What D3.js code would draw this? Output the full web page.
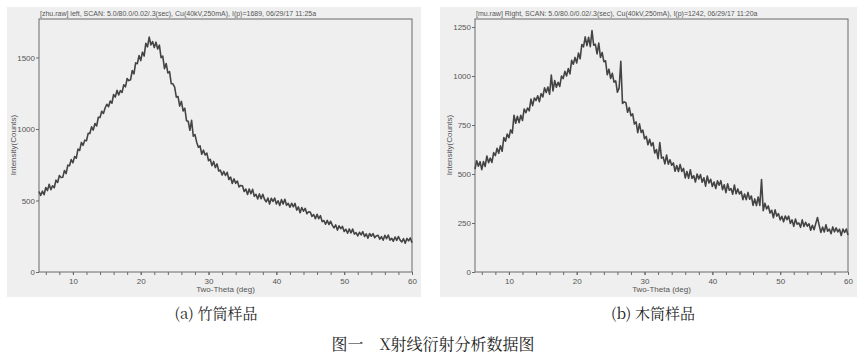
<!DOCTYPE html>
<html>
<head>
<meta charset="utf-8">
<script src="https://cdn.jsdelivr.net/npm/d3@7"></script>
<style>
  html, body { margin: 0; padding: 0; background: #ffffff; }
  svg { display: block; }
</style>
</head>
<body>
<svg id="chart" width="865" height="356"></svg>
<script>
// ---- data ----
const scanStart = 5, scanStep = 0.25;
const countsA = [563,536,565,540,591,569,613,576,603,589,642,626,675,661,662,710,688,747,743,786,
763,807,796,859,850,906,886,922,918,969,968,1015,992,1038,1021,1082,1080,1124,1109,1147,
1173,1156,1195,1180,1241,1223,1270,1238,1268,1256,1309,1295,1353,1338,1344,1409,1385,1462,1457,1513,
1478,1537,1510,1599,1574,1642,1588,1611,1570,1607,1559,1586,1499,1510,1422,1458,1392,1401,1317,1316,
1292,1223,1227,1160,1193,1126,1145,1058,1054,991,1060,950,961,908,872,882,823,852,818,831,
778,788,744,773,730,756,706,712,678,703,675,697,647,664,619,651,620,636,595,605,
603,563,580,542,581,547,578,529,543,511,546,512,543,509,490,517,475,516,493,517,
476,498,465,506,475,509,466,480,453,481,456,480,433,455,414,451,425,445,407,421,
420,389,402,372,403,373,394,352,360,334,361,332,355,326,309,329,293,323,303,319,
283,299,271,301,274,300,265,275,252,278,260,282,248,267,237,269,250,268,240,253,
256,230,247,222,257,233,259,223,236,215,245,221,248,223,210,233,201,235,218,238,205];
const countsB = [525,568,540,563,522,564,539,592,558,581,559,609,594,631,606,644,616,686,667,704,
685,725,709,800,759,795,762,800,773,832,813,837,822,882,849,888,875,899,869,910,
893,940,916,944,907,1005,924,977,943,968,947,1000,987,1024,1000,1038,1011,1080,1060,1095,
1067,1117,1088,1161,1149,1200,1155,1198,1150,1232,1157,1162,1113,1168,1095,1120,1073,1078,1007,1035,
988,1014,969,975,917,938,1075,860,868,864,815,839,797,807,755,766,711,756,712,724,
680,692,649,677,644,660,607,625,578,660,581,586,552,597,550,573,545,557,514,543,
513,549,513,529,480,513,478,522,478,491,459,500,475,497,458,481,438,490,454,473,
436,459,426,465,443,466,420,445,405,450,417,426,397,444,399,424,398,411,369,398,
369,406,371,388,340,373,339,383,340,472,313,351,322,337,301,315,277,317,285,298,
266,284,256,286,267,285,248,266,233,270,244,250,228,266,232,254,234,246,213,238,
216,248,278,238,202,229,204,241,208,219,195,230,205,225,205,218,186,219,202,219,189];
const xTickLabels = [10, 20, 30, 40, 50, 60];
const xMinorTicks = d3.range(6, 60.001, 2);
const yTicksA = [0, 500, 1000, 1500];
const yTicksB = [0, 250, 500, 750, 1000, 1250];
const titleA = "[zhu.raw] left, SCAN: 5.0/80.0/0.02/.3(sec), Cu(40kV,250mA), I(p)=1689, 06/29/17 11:25a";
const titleB = "[mu.raw] Right, SCAN: 5.0/80.0/0.02/.3(sec), Cu(40kV,250mA), I(p)=1242, 06/29/17 11:20a";
const captionA = "(a) 竹筒样品";
const captionB = "(b) 木筒样品";
const figCaption = "图一\u3000X射线衍射分析数据图";

// ---- drawing ----
const svg = d3.select("#chart");
const sansFont = "'Liberation Sans', Arial, sans-serif";
const serifFont = "'Noto Serif CJK SC', 'Liberation Serif', 'Noto Sans CJK SC', serif";

function panel(opts) {
  const { bg, plot, counts, yMax, yTicks, title, caption } = opts;
  const g = svg.append("g");
  g.append("rect").attr("x", bg.x).attr("y", bg.y).attr("width", bg.w).attr("height", bg.h)
    .attr("fill", "#efefef");

  const x = d3.scaleLinear().domain([5, 60]).range([plot.x, plot.x + plot.w]);
  const y = d3.scaleLinear().domain([0, yMax]).range([plot.y + plot.h, plot.y]);

  // frame
  g.append("rect").attr("x", plot.x).attr("y", plot.y).attr("width", plot.w).attr("height", plot.h)
    .attr("fill", "none").attr("stroke", "#6a6a6a").attr("stroke-width", 1);

  // x axis
  const xAxis = g.append("g").attr("transform", `translate(0,${plot.y + plot.h})`)
    .call(d3.axisBottom(x).tickValues(xMinorTicks).tickSize(3).tickFormat(""));
  xAxis.select(".domain").remove();
  xAxis.selectAll("line").attr("stroke", "#6a6a6a");
  const xAxisL = g.append("g").attr("transform", `translate(0,${plot.y + plot.h})`)
    .call(d3.axisBottom(x).tickValues(xTickLabels).tickSize(3).tickPadding(3).tickFormat(d3.format("d")));
  xAxisL.select(".domain").remove();
  xAxisL.selectAll("line").attr("stroke", "#6a6a6a");
  xAxisL.selectAll("text").attr("fill", "#555").style("font-family", sansFont).style("font-size", "8px");

  // y axis
  const yAxis = g.append("g").attr("transform", `translate(${plot.x},0)`)
    .call(d3.axisLeft(y).tickValues(yTicks).tickSize(3).tickPadding(1).tickFormat(d3.format("d")));
  yAxis.select(".domain").remove();
  yAxis.selectAll("line").attr("stroke", "#6a6a6a");
  yAxis.selectAll("text").attr("fill", "#555").style("font-family", sansFont).style("font-size", "8px");

  // line
  const line = d3.line().x((d, i) => x(scanStart + i * scanStep)).y(d => y(d));
  g.append("path").datum(counts).attr("d", line).attr("fill", "none")
    .attr("stroke", "#444").attr("stroke-width", 1.6).attr("stroke-linejoin", "round");

  // title
  g.append("text").attr("x", plot.x + 1).attr("y", plot.y - 3).text(title)
    .attr("fill", "#555").style("font-family", sansFont).style("font-size", "7px");

  // axis labels
  g.append("text").attr("x", plot.x + plot.w / 2).attr("y", plot.y + plot.h + 20)
    .attr("text-anchor", "middle").text("Two-Theta (deg)")
    .attr("fill", "#555").style("font-family", sansFont).style("font-size", "8px");
  g.append("text").attr("transform", `translate(${opts.ylabX},${plot.y + 126}) rotate(-90)`)
    .attr("text-anchor", "middle").text("Intensity(Counts)")
    .attr("fill", "#555").style("font-family", sansFont).style("font-size", "8px");

  // caption
  g.append("text").attr("x", opts.capX).attr("y", 319).attr("text-anchor", "middle").text(caption)
    .attr("fill", "#222").style("font-family", serifFont).style("font-size", "15px");
}

panel({
  bg: { x: 7, y: 7, w: 414, h: 290 },
  plot: { x: 39, y: 19, w: 373, h: 253 },
  counts: countsA, yMax: 1769, yTicks: yTicksA,
  title: titleA, caption: captionA, ylabX: 16, capX: 216
});
panel({
  bg: { x: 440, y: 7, w: 417, h: 290 },
  plot: { x: 475, y: 19, w: 373, h: 253 },
  counts: countsB, yMax: 1291, yTicks: yTicksB,
  title: titleB, caption: captionB, ylabX: 452, capX: 653
});

svg.append("text").attr("x", 433).attr("y", 350).attr("text-anchor", "middle").text(figCaption)
  .attr("fill", "#222").style("font-family", serifFont).style("font-size", "16px");
</script>
</body>
</html>
